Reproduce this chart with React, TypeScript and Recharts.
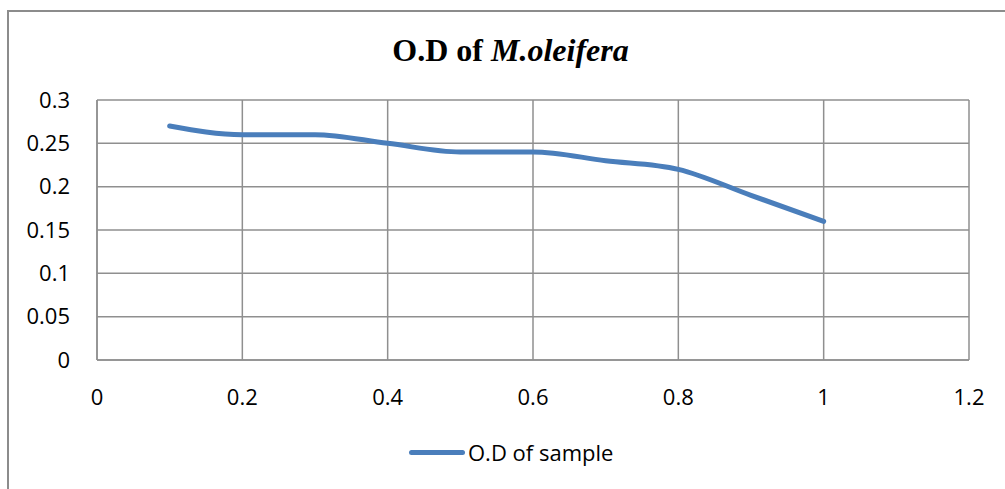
import { CartesianGrid, Legend, Line, LineChart, XAxis, YAxis } from 'recharts';

const concentrations = [0.1, 0.2, 0.3, 0.4, 0.5, 0.6, 0.7, 0.8, 0.9, 1.0];
const odValues = [0.27, 0.26, 0.26, 0.25, 0.24, 0.24, 0.23, 0.22, 0.19, 0.16];
const xTicks = [0, 0.2, 0.4, 0.6, 0.8, 1, 1.2];
const yTicks = [0, 0.05, 0.1, 0.15, 0.2, 0.25, 0.3];

const data = concentrations.map((x, i) => ({ x, od: odValues[i] }));

const labelFont = "'Open Sans', 'Noto Sans', sans-serif";
const gridColor = '#8f8f8f';
const lineColor = '#4a7ebb';

function LegendContent({ payload }: any) {
  const item = payload?.[0];
  if (!item) return null;
  return (
    <div style={{ display: 'flex', alignItems: 'center', height: 30, marginLeft: 409, fontFamily: labelFont, fontSize: 22 }}>
      <span style={{ display: 'inline-block', width: 56, height: 5, borderRadius: 3, background: item.color }} />
      <span style={{ marginLeft: 3, color: '#000' }}>{item.value}</span>
    </div>
  );
}

export default function App() {
  return (
    <div style={{ position: 'absolute', left: 0, top: 0, width: 1005, height: 489, background: '#fff', overflow: 'hidden' }}>
      <div
        style={{
          position: 'absolute',
          left: 7,
          top: 10,
          width: 1100,
          height: 600,
          borderLeft: '2px solid #8c8c8c',
          borderTop: '2px solid #8c8c8c',
        }}
      />
      <div
        style={{
          position: 'absolute',
          left: 0,
          width: 1021,
          top: 31,
          textAlign: 'center',
          fontFamily: "'Liberation Serif', 'Times New Roman', serif",
          fontWeight: 'bold',
          fontSize: 32,
          lineHeight: '38px',
        }}
      >
        O.D of <i>M.oleifera</i>
      </div>
      <LineChart width={1005} height={489} data={data} margin={{ top: 100, right: 36, bottom: 59, left: 0 }}>
        <CartesianGrid stroke={gridColor} strokeWidth={1.5} />
        <XAxis
          dataKey="x"
          type="number"
          domain={[0, 1.2]}
          ticks={xTicks}
          height={40}
          tickLine={false}
          tickSize={0}
          tickMargin={29}
          axisLine={{ stroke: gridColor, strokeWidth: 1.5 }}
          tick={{ fill: '#000', fontSize: 22, fontFamily: labelFont }}
        />
        <YAxis
          type="number"
          domain={[0, 0.3]}
          ticks={yTicks}
          width={97}
          tickLine={false}
          tickSize={0}
          tickMargin={27}
          axisLine={{ stroke: gridColor, strokeWidth: 1.5 }}
          tick={{ fill: '#000', fontSize: 22, fontFamily: labelFont }}
        />
        <Legend
          content={<LegendContent />}
          wrapperStyle={{ position: 'absolute', left: 0, top: 437, width: 1005 }}
        />
        <Line
          type="monotone"
          dataKey="od"
          name="O.D of sample"
          stroke={lineColor}
          strokeWidth={5}
          strokeLinecap="round"
          dot={false}
          isAnimationActive={false}
        />
      </LineChart>
    </div>
  );
}
